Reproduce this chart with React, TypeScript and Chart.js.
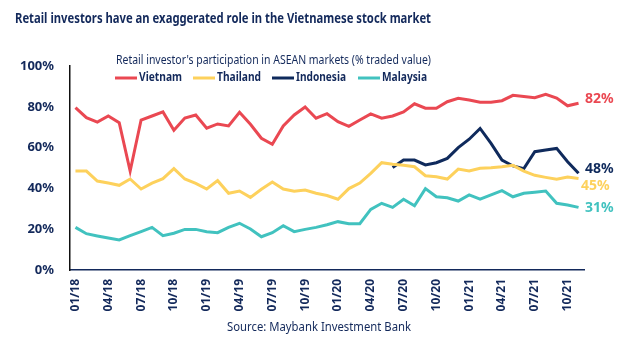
import React, { useEffect, useRef } from "react";
import { Chart, registerables } from "chart.js";

Chart.register(...registerables);

const months = [
  "01/18","02/18","03/18","04/18","05/18","06/18","07/18","08/18","09/18","10/18","11/18","12/18",
  "01/19","02/19","03/19","04/19","05/19","06/19","07/19","08/19","09/19","10/19","11/19","12/19",
  "01/20","02/20","03/20","04/20","05/20","06/20","07/20","08/20","09/20","10/20","11/20","12/20",
  "01/21","02/21","03/21","04/21","05/21","06/21","07/21","08/21","09/21","10/21","11/21",
];

const vietnam = [
  79.6, 74.7, 72.5, 75.5, 72.2, 48.5, 73.5, 75.5, 77.5, 68.5, 74.5, 76.0,
  69.5, 71.6, 70.6, 77.3, 71.4, 64.6, 61.6, 70.6, 76.0, 79.9, 74.4, 76.6,
  72.7, 70.4, 73.5, 76.5, 74.4, 75.5, 77.5, 81.5, 79.3, 79.3, 82.5, 84.2,
  83.3, 82.2, 82.2, 83.0, 85.6, 85.0, 84.5, 86.1, 84.3, 80.5, 81.7,
];

const thailand = [
  48.5, 48.5, 43.6, 42.6, 41.5, 44.6, 39.7, 42.6, 44.8, 49.7, 44.6, 42.5,
  39.7, 43.8, 37.6, 38.7, 35.6, 39.6, 43.1, 39.7, 38.6, 39.2, 37.6, 36.5,
  34.7, 39.9, 42.6, 47.4, 52.6, 51.8, 51.3, 50.6, 46.2, 45.7, 44.6, 49.5,
  48.5, 49.9, 50.1, 50.6, 51.3, 48.5, 46.4, 45.4, 44.5, 45.6, 44.8,
];

const indonesia = [
  null, null, null, null, null, null, null, null, null, null, null, null,
  null, null, null, null, null, null, null, null, null, null, null, null,
  null, null, null, null, null, 50.2, 53.9, 53.9, 51.5, 52.6, 54.7, 60.0,
  64.1, 69.4, 62.1, 53.9, 51.0, 49.7, 58.0, 58.8, 59.6, 53.1, 47.4,
];

const malaysia = [
  20.9, 17.8, 16.7, 15.7, 14.7, 16.8, 18.8, 20.9, 16.8, 18.0, 19.9, 19.9,
  18.8, 18.3, 20.9, 22.9, 20.1, 16.3, 18.3, 21.7, 18.8, 19.9, 20.9, 22.2,
  23.7, 22.7, 22.7, 29.7, 32.7, 30.7, 34.7, 31.5, 39.9, 35.9, 35.4, 33.8,
  36.8, 34.7, 36.8, 38.9, 35.9, 37.6, 38.1, 38.7, 32.7, 31.9, 30.7,
];

const seriesNames = ["Vietnam", "Thailand", "Indonesia", "Malaysia"];
const endLabels = ["82%", "45%", "48%", "31%"];
const yTicks = [0, 20, 40, 60, 80, 100];

const titleText = "Retail investors have an exaggerated role in the Vietnamese stock market";
const subtitleText = "Retail investor's participation in ASEAN markets (% traded value)";
const sourceText = "Source: Maybank Investment Bank";

const NAVY = "#13295b";
const RED = "#ea4852";
const YELLOW = "#fdd15c";
const DARKBLUE = "#0f2a5c";
const TEAL = "#41c2bf";
const FONT = "'Noto Sans', sans-serif";

const colors = [RED, YELLOW, DARKBLUE, TEAL];
const endOffsets = [
  { dx: 35, dy: -4 },
  { dx: 31, dy: 7 },
  { dx: 35, dy: -4 },
  { dx: 35, dy: 1 },
];

const textPlugin = {
  id: "textPlugin",
  afterDraw(chart: any) {
    const ctx = chart.ctx;
    ctx.save();
    // Title
    ctx.fillStyle = NAVY;
    ctx.textBaseline = "middle";
    ctx.textAlign = "left";
    ctx.font = `bold 15px ${FONT}`;
    ctx.fillText(titleText, 15, 19, 416);
    // Subtitle
    ctx.font = `13px ${FONT}`;
    ctx.fillText(subtitleText, 116, 60, 315);
    // Legend
    const legendX = [115, 193, 272, 358];
    const legendW = [43, 44, 50, 45];
    ctx.font = `bold 13px ${FONT}`;
    chart.data.datasets.forEach((ds: any, i: number) => {
      const x = legendX[i];
      ctx.strokeStyle = ds.borderColor;
      ctx.lineWidth = 3;
      ctx.beginPath();
      ctx.moveTo(x, 78);
      ctx.lineTo(x + 22, 78);
      ctx.stroke();
      ctx.fillStyle = NAVY;
      ctx.fillText(ds.label, x + 24, 77, legendW[i]);
    });
    // End labels
    ctx.font = `bold 14px ${FONT}`;
    ctx.textAlign = "right";
    chart.data.datasets.forEach((ds: any, i: number) => {
      const meta = chart.getDatasetMeta(i);
      const pt = meta.data[meta.data.length - 1];
      if (!pt) return;
      ctx.fillStyle = ds.borderColor;
      const o = endOffsets[i];
      ctx.fillText(endLabels[i], pt.x + o.dx, pt.y + o.dy);
    });
    // Source
    ctx.fillStyle = NAVY;
    ctx.font = `12px ${FONT}`;
    ctx.textAlign = "left";
    ctx.fillText(sourceText, 227, 328, 184);
    ctx.restore();
  },
};

export default function App() {
  const ref = useRef<HTMLCanvasElement>(null);

  useEffect(() => {
    if (!ref.current) return;
    const seriesData = [vietnam, thailand, indonesia, malaysia];
    const chart = new Chart(ref.current, {
      type: "line",
      data: {
        labels: months,
        datasets: seriesData.map((d, i) => ({
          label: seriesNames[i],
          data: d,
          borderColor: colors[i],
          backgroundColor: colors[i],
          borderWidth: 3,
          pointRadius: 0,
          tension: 0,
          spanGaps: false,
        })),
      },
      options: {
        responsive: false,
        animation: false,
        layout: { padding: { left: 0, right: 50, top: 66, bottom: 0 } },
        plugins: {
          legend: { display: false },
          title: { display: false },
          tooltip: { enabled: false },
        },
        scales: {
          x: {
            type: "category",
            offset: true,
            grid: { display: false, drawTicks: false },
            border: { display: true, color: NAVY, width: 1.5 },
            afterFit: (s: any) => {
              s.height = 82;
            },
            ticks: {
              autoSkip: false,
              maxRotation: 90,
              minRotation: 90,
              padding: 9,
              color: NAVY,
              font: { family: FONT, size: 12, weight: "bold" },
              callback: (_v: any, idx: number) => (idx % 3 === 0 ? months[idx] : ""),
            },
          },
          y: {
            min: 0,
            max: 100,
            afterFit: (s: any) => {
              s.width = 70;
            },
            afterBuildTicks: (s: any) => {
              s.ticks = yTicks.map((v) => ({ value: v }));
            },
            grid: { display: false, drawTicks: false },
            border: { display: true, color: "#111111", width: 1.5 },
            ticks: {
              padding: 16,
              color: NAVY,
              font: { family: FONT, size: 13, weight: "bold" },
              callback: (v: any) => `${v}%`,
            },
          },
        },
      },
      plugins: [textPlugin],
    });
    return () => chart.destroy();
  }, []);

  return (
    <div style={{ position: "fixed", left: 0, top: 0, width: 634, height: 352, background: "#ffffff" }}>
      <canvas ref={ref} width={634} height={352} style={{ width: 634, height: 352, display: "block" }} />
    </div>
  );
}
